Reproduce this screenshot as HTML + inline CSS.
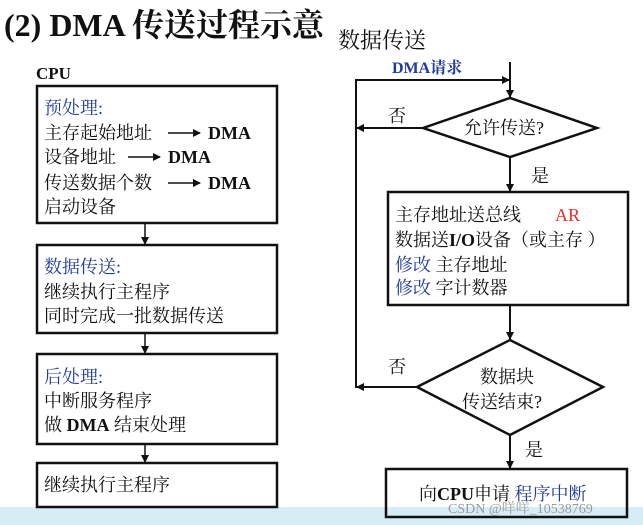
<!DOCTYPE html>
<html><head><meta charset="utf-8"><style>
html,body{margin:0;padding:0;background:#fff;}
svg{display:block;}
text{font-family:"Liberation Serif","Noto Serif CJK SC",serif;fill:#111;}
.b{fill:#1f3aa0;}
</style></head><body>
<svg width="643" height="525" viewBox="0 0 643 525" xmlns="http://www.w3.org/2000/svg">
<defs><marker id="a" markerWidth="8" markerHeight="8" refX="7" refY="4" orient="auto" markerUnits="userSpaceOnUse"><path d="M0,0 L8,4 L0,8 z" fill="#111"/></marker></defs>
<rect x="0" y="507" width="643" height="18" fill="#d6edf6"/>
<text x="4" y="36" font-size="32" font-weight="bold">(2) DMA 传送过程示意</text>
<text x="36" y="79" font-size="17" font-weight="bold">CPU</text>
<g fill="none" stroke="#111" stroke-width="2.5">
<rect x="37" y="86" width="240" height="137"/>
<rect x="37" y="245" width="240" height="88"/>
<rect x="37" y="354" width="240" height="90"/>
<rect x="37" y="463" width="240" height="44"/>
</g>
<g stroke="#111" stroke-width="1.5" fill="none">
<line x1="145" y1="223" x2="145" y2="244" marker-end="url(#a)"/>
<line x1="145" y1="333" x2="145" y2="353" marker-end="url(#a)"/>
<line x1="145" y1="444" x2="145" y2="462" marker-end="url(#a)"/>
<line x1="168" y1="133" x2="200" y2="133" marker-end="url(#a)"/>
<line x1="128" y1="157" x2="160" y2="157" marker-end="url(#a)"/>
<line x1="168" y1="183" x2="200" y2="183" marker-end="url(#a)"/>
</g>
<g font-size="18">
<text x="44" y="114" class="b">预处理:</text>
<text x="44" y="139">主存起始地址</text><text x="208" y="139" font-weight="bold">DMA</text>
<text x="44" y="163">设备地址</text><text x="168" y="163" font-weight="bold">DMA</text>
<text x="44" y="189">传送数据个数</text><text x="208" y="189" font-weight="bold">DMA</text>
<text x="44" y="213">启动设备</text>
<text x="44" y="273" class="b">数据传送:</text>
<text x="44" y="298">继续执行主程序</text>
<text x="44" y="322">同时完成一批数据传送</text>
<text x="44" y="383" class="b">后处理:</text>
<text x="44" y="407">中断服务程序</text>
<text x="44" y="431">做 <tspan font-weight="bold">DMA</tspan> 结束处理</text>
<text x="44" y="491">继续执行主程序</text>
</g>
<text x="338" y="48" font-size="22">数据传送</text>
<text x="392" y="73" font-size="16" font-weight="bold" class="b">DMA请求</text>
<g stroke="#111" stroke-width="2" fill="none">
<line x1="510" y1="62" x2="510" y2="97" marker-end="url(#a)"/>
<polyline points="356,128 356,80 509,80" marker-end="url(#a)"/>
<polygon points="423,128 510,98 597,128 510,157" stroke-width="2.5"/>
<line x1="422" y1="128" x2="357" y2="128" marker-end="url(#a)"/>
<line x1="510" y1="157" x2="510" y2="191" marker-end="url(#a)"/>
<rect x="388" y="192" width="240" height="113" stroke-width="2.5"/>
<line x1="510" y1="305" x2="510" y2="339" marker-end="url(#a)"/>
<polygon points="417,387 510,340 603,387 510,435" stroke-width="2.5"/>
<polyline points="416,387 356,387 356,128"/>
<line x1="400" y1="387" x2="357" y2="387" marker-end="url(#a)"/>
<line x1="510" y1="435" x2="510" y2="468" marker-end="url(#a)"/>
<rect x="386" y="469" width="241" height="48" stroke-width="2.5"/>
</g>
<g font-size="18">
<text x="388" y="122">否</text>
<text x="464" y="134">允许传送?</text>
<text x="531" y="182">是</text>
<text x="395" y="221">主存地址送总线</text>
<text x="555" y="221" font-family="Liberation Sans,sans-serif" style="fill:#e8302a">AR</text>
<text x="395" y="246">数据送<tspan font-weight="bold">I/O</tspan>设备（或主存 ）</text>
<text x="395" y="271"><tspan class="b">修改</tspan> 主存地址</text>
<text x="395" y="294"><tspan class="b">修改</tspan> 字计数器</text>
<text x="388" y="373">否</text>
<text x="480" y="383">数据块</text>
<text x="462" y="408">传送结束?</text>
<text x="525" y="456">是</text>
<text x="419" y="500">向<tspan font-weight="bold">CPU</tspan>申请 <tspan class="b">程序中断</tspan></text>
</g>
<text x="448" y="513" font-size="14" font-family="Liberation Sans,sans-serif" style="fill:#999">CSDN @咩咩_10538769</text>
</svg>
</body></html>
